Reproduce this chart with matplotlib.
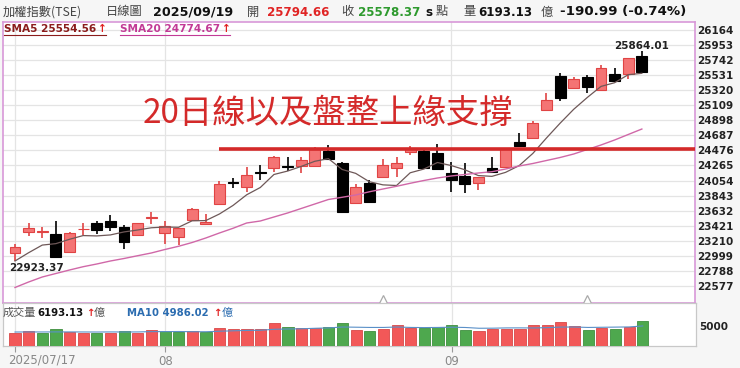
import numpy as np
import matplotlib
matplotlib.use('Agg')
import matplotlib.pyplot as plt
from matplotlib.lines import Line2D

# 字型: 英數用 DejaVu, 中文用 Noto CJK
plt.rcParams['font.family'] = ['DejaVu Sans', 'Noto Sans CJK TC']
CJK = ['Noto Sans CJK TC', 'DejaVu Sans']

# ---- 加權指數 日K 2025/07/17 ~ 2025/09/19 ----
opens = [23039, 23333, 23330, 23301, 23057, 23370, 23463, 23487, 23407, 23291,
         23525, 23315, 23259, 23501, 23445, 23721, 24025, 23967, 24175, 24229,
         24250, 24257, 24257, 24467, 24303, 23735, 24023, 24107, 24229, 24447,
         24470, 24435, 24157, 24111, 24018, 24229, 24243, 24593, 24649, 25035,
         25511, 25349, 25497, 25321, 25545, 25545, 25794.66]
highs = [23165, 23463, 23407, 23491, 23330, 23455, 23491, 23571, 23431, 23465,
         23620, 23491, 23390, 23673, 23590, 24047, 24090, 24248, 24271, 24401,
         24379, 24388, 24519, 24551, 24310, 24005, 24061, 24351, 24379, 24537,
         24480, 24565, 24311, 24297, 24110, 24379, 24505, 24723, 24887, 25275,
         25559, 25497, 25531, 25665, 25625, 25770, 25864.01]
lows = [22923.37, 23277, 23245, 22979, 23050, 23291, 23305, 23351, 23091, 23277,
        23445, 23165, 23150, 23491, 23430, 23715, 23950, 23889, 24061, 24180,
        24193, 24164, 24250, 24345, 23615, 23730, 23750, 24100, 24107, 24411,
        24220, 24215, 23889, 23885, 23917, 24170, 24240, 24530, 24645, 25030,
        25167, 25345, 25275, 25315, 25435, 25471, 25570]
closes = [23123, 23384, 23340, 22987, 23323, 23380, 23361, 23407, 23200, 23455,
          23538, 23417, 23385, 23655, 23470, 24000, 24015, 24131, 24165, 24379,
          24240, 24341, 24491, 24351, 23620, 23967, 23757, 24271, 24303, 24510,
          24228, 24220, 24061, 24005, 24102, 24173, 24500, 24537, 24855, 25181,
          25209, 25475, 25363, 25625, 25441, 25769.36, 25578.37]

# 均線
sma5 = [22927, 23043, 23150, 23170, 23231, 23283, 23278, 23292, 23334, 23361,
        23392, 23403, 23399, 23490, 23493, 23585, 23705, 23854, 23956, 24138,
        24186, 24251, 24323, 24360, 24209, 24154, 24037, 23993, 23984, 24162,
        24214, 24306, 24264, 24205, 24123, 24112, 24168, 24263, 24433, 24649,
        24856, 25051, 25217, 25371, 25423, 25535, 25554.56]
sma20 = [22556, 22633, 22703, 22752, 22801, 22847, 22885, 22927, 22962, 23001,
         23039, 23088, 23133, 23186, 23249, 23319, 23385, 23459, 23487, 23543,
         23599, 23662, 23725, 23788, 23819, 23851, 23896, 23935, 23973, 24015,
         24054, 24089, 24117, 24138, 24159, 24177, 24215, 24257, 24292, 24334,
         24376, 24425, 24488, 24551, 24621, 24698, 24774.67]

# 成交量 (億)
volume = [3333, 3750, 3167, 4333, 3500, 3333, 3167, 3333, 3833, 3250,
          4083, 3833, 3417, 3750, 3500, 4583, 4250, 4250, 4250, 5667,
          4833, 4417, 4583, 4750, 5667, 4083, 3667, 4250, 5333, 4583,
          4500, 4750, 5167, 4083, 3750, 4250, 4333, 4333, 5167, 5333,
          5917, 4917, 4083, 4500, 4167, 4667, 6193.13]
vol_ma10 = [3480, 3500, 3490, 3510, 3500, 3490, 3480, 3500, 3490, 3500,
            3575, 3583, 3608, 3550, 3550, 3675, 3783, 3875, 3917, 4158,
            4233, 4292, 4408, 4508, 4725, 4675, 4617, 4617, 4725, 4617,
            4583, 4617, 4675, 4608, 4417, 4433, 4500, 4508, 4492, 4567,
            4708, 4725, 4617, 4658, 4700, 4742, 4986.02]

support = 24495   # 盤整上緣
support_from = 15  # 從第15根K棒開始畫

ytick_vals = [22577, 22788, 22999, 23210, 23421, 23632, 23843, 24054, 24265, 24476,
              24687, 24898, 25109, 25320, 25531, 25742, 25953, 26164]
xtick_pos = [0, 11, 32]
xtick_labels = ['2025/07/17', '08', '09']
marks = [27, 42]   # 底部小三角

RED_FILL = '#f47474'
RED_EDGE = '#e04444'
W, H = 740, 368

fig = plt.figure(figsize=(W / 100, H / 100), dpi=100, facecolor='#f6f6f6')
ax = fig.add_axes([3 / W, 65 / H, 692 / W, 281 / H])
axv = fig.add_axes([3 / W, 22 / H, 693 / W, 43 / H])

o = np.array(opens); c = np.array(closes); h = np.array(highs); l = np.array(lows)
x = np.arange(len(c))
up = c >= o
lo = np.minimum(o, c)
bh = np.maximum(np.abs(c - o), 12)

# K 棒
ax.vlines(x[up], l[up], h[up], color=RED_EDGE, lw=1.2, zorder=2)
ax.vlines(x[~up], l[~up], h[~up], color='black', lw=1.2, zorder=2)
ax.bar(x[up], bh[up], bottom=lo[up], width=0.8, color=RED_FILL,
       edgecolor=RED_EDGE, lw=0.8, zorder=3)
ax.bar(x[~up], bh[~up], bottom=lo[~up], width=0.8, color='black',
       edgecolor='black', lw=0.8, zorder=3)

ax.plot(x, sma5, color='#6e5858', lw=0.9, zorder=4)
ax.plot(x, sma20, color='#d068a8', lw=1.0, zorder=4)

xl = (-0.88, 49.9)
ax.hlines(support, support_from, xl[1], color='#d42a2a', lw=2.6, zorder=5)
ax.plot(marks, [22385] * len(marks), ls='none', marker='^', ms=7, mfc='white',
        mec='#aaaaaa', mew=0.9, clip_on=False, zorder=6)

ax.set_xlim(*xl)
ax.set_ylim(22339, 26273)
ax.set_yticks(ytick_vals)
ax.set_yticklabels([str(v) for v in ytick_vals], fontweight='bold')
ax.yaxis.tick_right()
ax.tick_params(axis='y', length=0, pad=1.5, labelsize=7.5, labelcolor='#222222')
ax.set_xticks(xtick_pos)
ax.tick_params(axis='x', length=0, labelbottom=False)
ax.grid(color='#e4e4e4', lw=0.9, zorder=0)
ax.set_axisbelow(True)
for s in ax.spines.values():
    s.set_color('#d898d8')
    s.set_linewidth(1.2)

# 高低點標示
ax.annotate('25864.01', (46, highs[-1]), xytext=(0, 0.5), textcoords='offset points',
            ha='center', va='bottom', fontsize=7.5, fontweight='bold', color='#222222')
ax.annotate('22923.37', (-0.45, lows[0]), xytext=(0, -1.2), textcoords='offset points',
            ha='left', va='top', fontsize=7.5, fontweight='bold', color='#222222')

# 標題文字
ax.text(0.470, 0.676, '20日線以及盤整上緣支撐', transform=ax.transAxes, ha='center',
        va='center', fontsize=24, color='#d42a2a', family=CJK)

# 成交量
prev = np.concatenate([[c[0] - 1], c[:-1]])
vcol = np.where(c >= prev, '#f25858', '#4ea84e')
vedge = np.where(c >= prev, '#d84848', '#3f8f3f')
axv.bar(x, volume, width=0.82, color=vcol, edgecolor=vedge, lw=0.6, zorder=3)
axv.plot(x, vol_ma10, color='#5a90c8', lw=0.8, zorder=4)
axv.set_xlim(*xl)
axv.set_ylim(0, 10700)
axv.set_yticks([5000])
axv.set_yticklabels(['5000'], fontweight='bold')
axv.yaxis.tick_right()
axv.tick_params(axis='y', length=0, pad=2.5, labelsize=7.5, labelcolor='#222222')
axv.set_xticks(xtick_pos)
axv.set_xticklabels([''] + xtick_labels[1:])
axv.tick_params(axis='x', length=4, width=0.8, color='#999999', labelsize=8.5,
                labelcolor='#888888', pad=2.5)
axv.text(-0.5, -0.33, xtick_labels[0], transform=axv.get_xaxis_transform(),
         ha='left', va='center', fontsize=8.5, color='#888888')
axv.grid(axis='x', color='#e4e4e4', lw=0.9, zorder=0)
axv.set_axisbelow(True)
for s in axv.spines.values():
    s.set_color('#c8c8c8')
    s.set_linewidth(0.9)


def ftext(px, py, s, **kw):
    fig.text(px / W, 1 - py / H, s, va='center', ha='left', **kw)


# 表頭
ftext(3, 12, '加權指數(TSE)', fontsize=8.8, color='#444444', family=CJK)
ftext(106, 12, '日線圖', fontsize=8.8, color='#444444', family=CJK)
ftext(153, 12, '2025/09/19', fontsize=9.2, fontweight='bold', color='#111111')
ftext(247, 12, '開', fontsize=8.8, color='#444444', family=CJK)
ftext(267, 12, '25794.66', fontsize=8.6, fontweight='bold', color='#e02424')
ftext(341, 12, '收', fontsize=8.8, color='#444444', family=CJK)
ftext(358, 12, '25578.37', fontsize=8.6, fontweight='bold', color='#2e9a2e')
ftext(425, 12, 's', fontsize=8.6, fontweight='bold', color='#111111')
ftext(436, 12, '點', fontsize=8.8, color='#444444', family=CJK)
ftext(463, 12, '量', fontsize=8.8, color='#444444', family=CJK)
ftext(478, 12, '6193.13', fontsize=8.6, fontweight='bold', color='#111111')
ftext(541, 12, '億', fontsize=8.8, color='#444444', family=CJK)
ftext(560, 12, '-190.99 (-0.74%)', fontsize=9.6, fontweight='bold', color='#111111')

# 均線標籤
ftext(4, 29, 'SMA5 25554.56', fontsize=7.6, fontweight='bold', color='#8b1c1c')
ftext(98, 29, '↑', fontsize=7.6, fontweight='bold', color='#e02020')
ftext(120, 29, 'SMA20 24774.67', fontsize=7.6, fontweight='bold', color='#c23a96')
ftext(222, 29, '↑', fontsize=7.6, fontweight='bold', color='#e02020')
fig.add_artist(Line2D([4 / W, 106 / W], [1 - 35 / H] * 2, color='#8b1c1c', lw=0.8))
fig.add_artist(Line2D([120 / W, 230 / W], [1 - 35 / H] * 2, color='#c23a96', lw=0.8))

# 量能標籤
ftext(3, 313, '成交量', fontsize=8, color='#555555', family=CJK)
ftext(37, 313, '6193.13', fontsize=7.3, fontweight='bold', color='#111111')
ftext(86, 313, '↑', fontsize=7.3, fontweight='bold', color='#e02020')
ftext(94, 313, '億', fontsize=8, color='#555555', family=CJK)
ftext(127, 313, 'MA10 4986.02', fontsize=7.3, fontweight='bold', color='#2b6cb0')
ftext(213, 313, '↑', fontsize=7.3, fontweight='bold', color='#e02020')
ftext(222, 313, '億', fontsize=8, color='#2b6cb0', family=CJK)

fig.savefig('out.png', dpi=100, facecolor=fig.get_facecolor())
